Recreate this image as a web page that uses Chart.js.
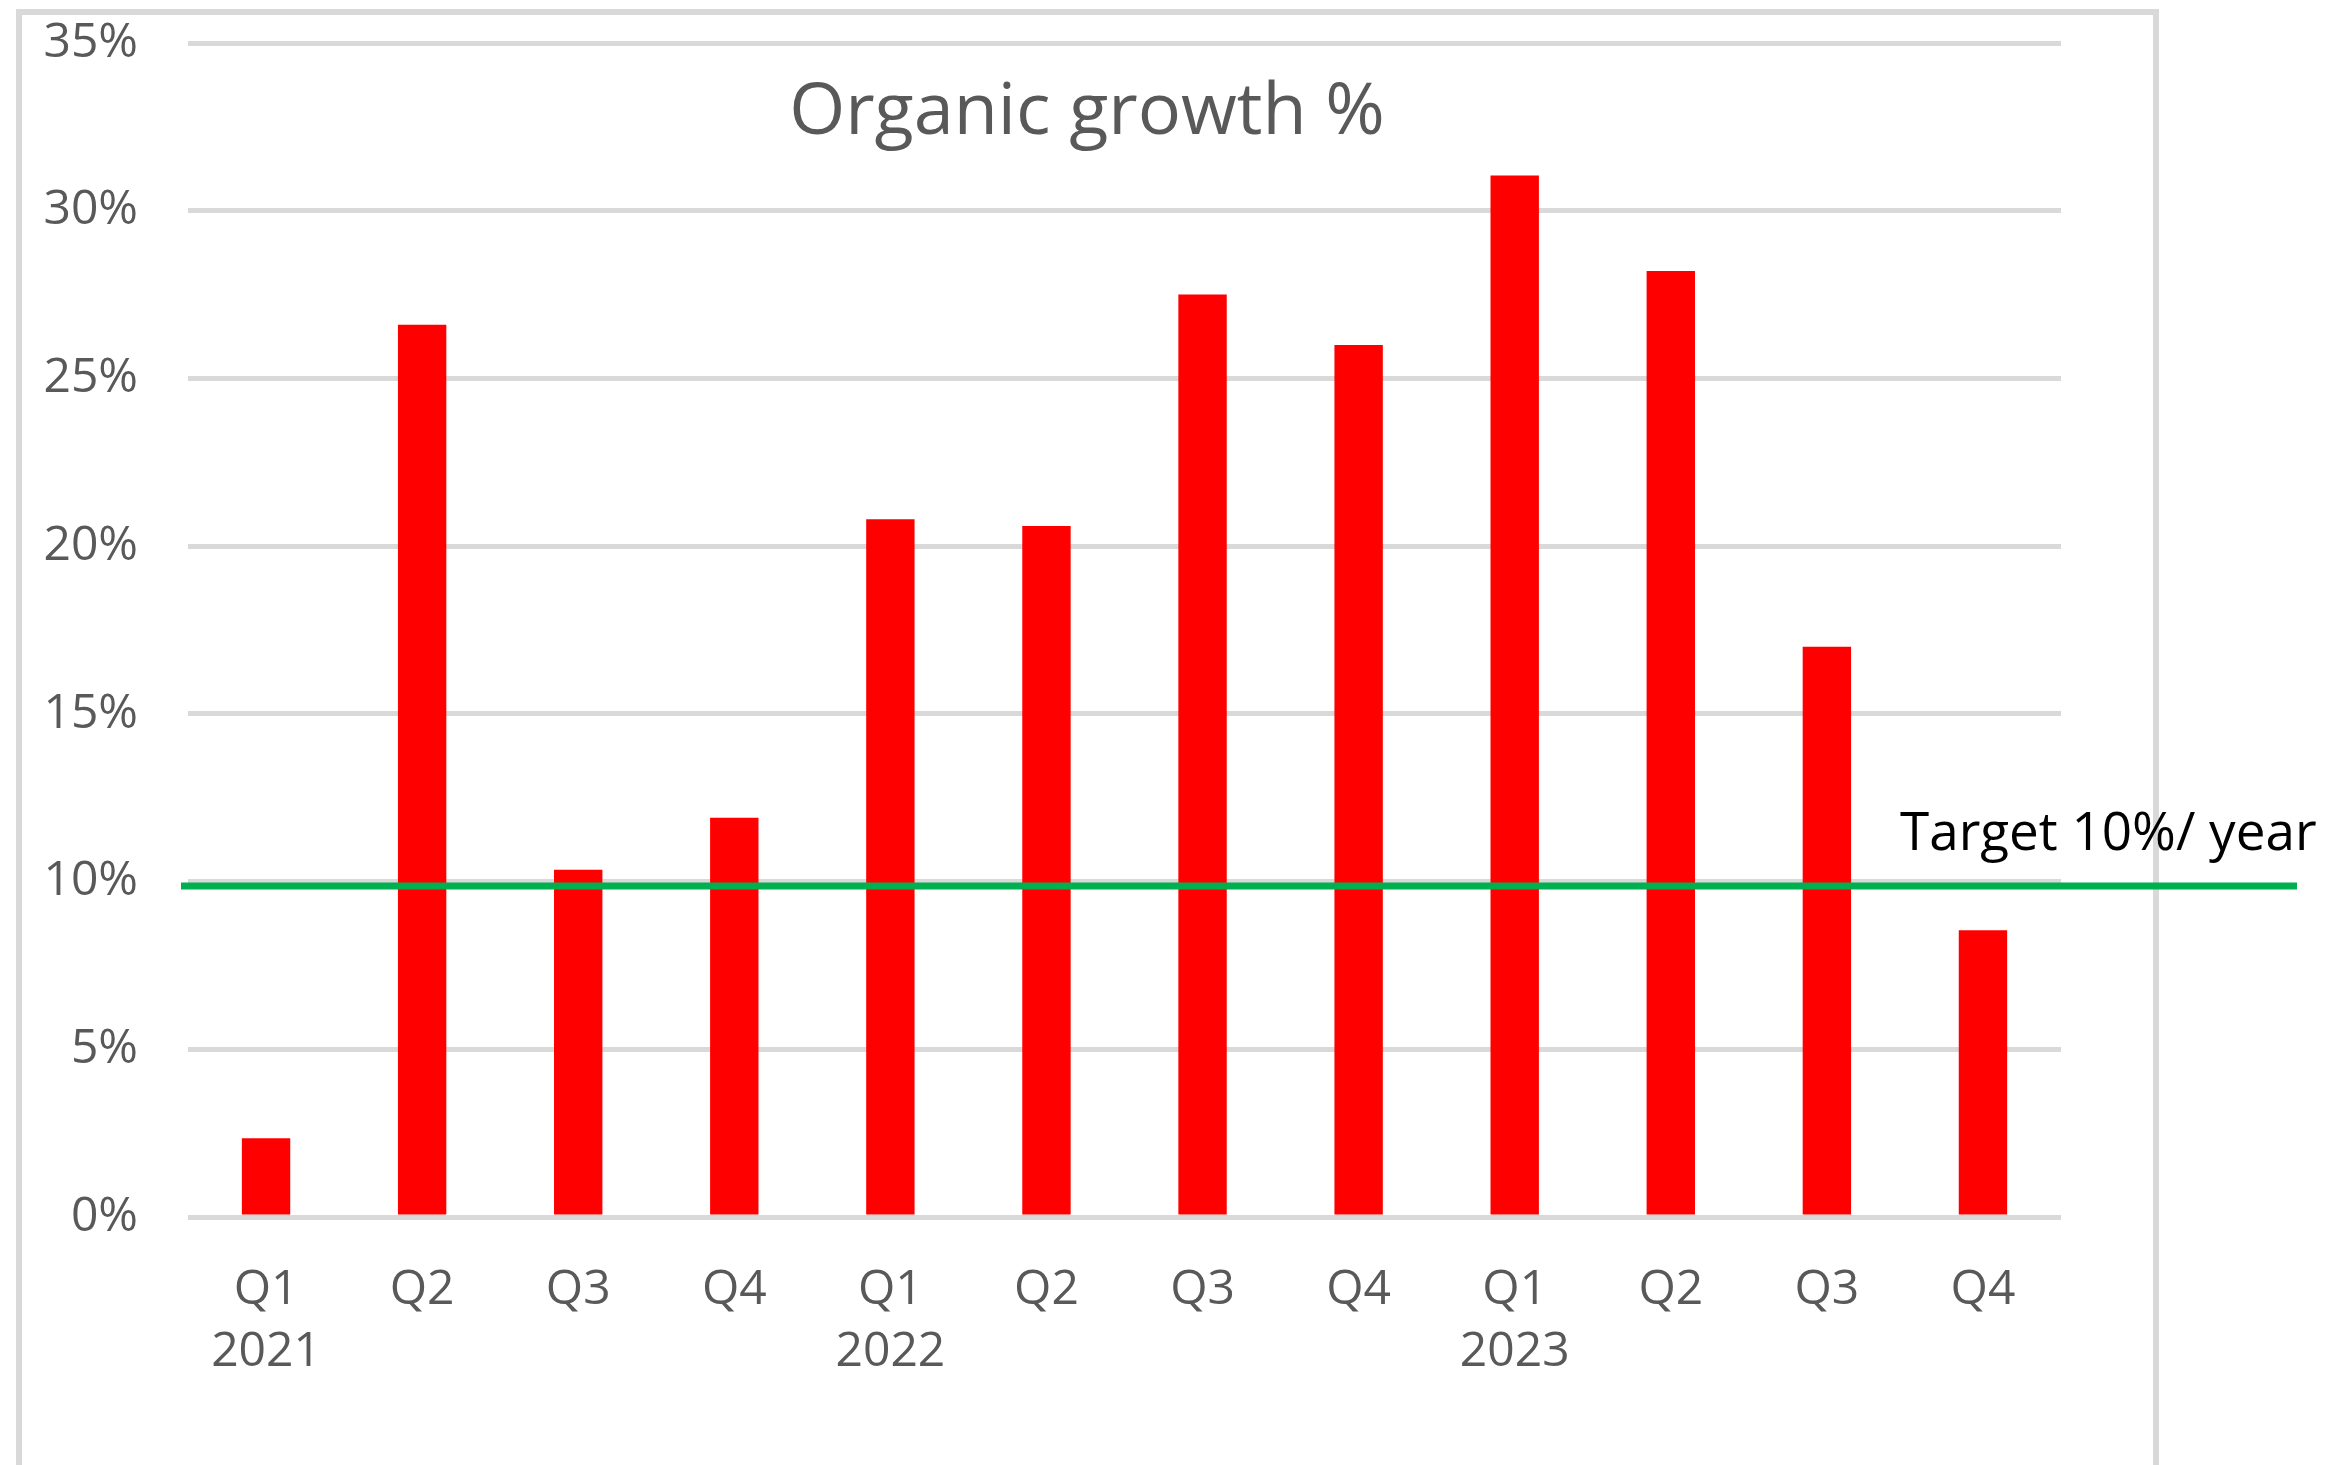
<!DOCTYPE html>
<html>
<head>
<meta charset="utf-8">
<script src="https://cdn.jsdelivr.net/npm/chart.js@4"></script>
<style>
  html, body { margin: 0; padding: 0; background: #fff; overflow: hidden; }
  #wrap { position: relative; width: 2327px; height: 1465px; }
  #frame { position: absolute; left: 16px; top: 9px; width: 2143px; height: 1500px;
           border: 6px solid #d9d9d9; box-sizing: border-box; }
  #growthChart { position: absolute; left: 0; top: 0; }
</style>
</head>
<body>
<div id="wrap">
  <div id="frame"></div>
  <canvas id="growthChart" width="2327" height="1465"></canvas>
</div>
<script>
// quarters and the year shown under the first quarter of each year
const quarters = ['Q1', 'Q2', 'Q3', 'Q4', 'Q1', 'Q2', 'Q3', 'Q4', 'Q1', 'Q2', 'Q3', 'Q4'];
const years = ['2021', '', '', '', '2022', '', '', '', '2023', '', '', ''];
// organic growth in %
const growth = [2.35, 26.6, 10.35, 11.9, 20.8, 20.6, 27.5, 26.0, 31.05, 28.2, 17.0, 8.55];
const yTicks = [0, 5, 10, 15, 20, 25, 30, 35];
const targetValue = 9.87;
const titleText = 'Organic growth %';
const targetText = 'Target 10%/ year';

const fontFamily = '"Open Sans", "Liberation Sans", sans-serif';
const textGrey = '#595959';

/**
 * Draws the chart title inside the plot, the green target line and its label.
 * The title sits over the gridlines like in the Excel original.
 */
const overlayPlugin = {
  id: 'overlay',
  afterDraw(chart) {
    let ctx = chart.ctx;
    let area = chart.chartArea;
    let y = chart.scales.y;
    ctx.save();
    // title, centred on the outer frame
    ctx.fillStyle = textGrey;
    ctx.font = '72px ' + fontFamily;
    ctx.textAlign = 'center';
    ctx.textBaseline = 'middle';
    ctx.fillText(titleText, 1087, (y.getPixelForValue(35) + y.getPixelForValue(30)) / 2 - 13);

    // target line runs past the frame on the right
    let ty = y.getPixelForValue(targetValue);
    ctx.strokeStyle = '#00b050';
    ctx.lineWidth = 7;
    ctx.beginPath();
    ctx.moveTo(area.left - 7, ty);
    ctx.lineTo(chart.width - 30, ty);
    ctx.stroke();

    ctx.fillStyle = '#000000';
    ctx.font = '53px ' + fontFamily;
    ctx.textAlign = 'left';
    ctx.textBaseline = 'alphabetic';
    ctx.fillText(targetText, area.right - 161, ty - 36);
    ctx.restore();
  }
};

function buildLabels() {
  let labels = [];
  for (let i = 0; i < quarters.length; i++) {
    labels.push([quarters[i], years[i]]);
  }
  return labels;
}

function drawChart(node) {
  let chart = new Chart(node, {
    type: 'bar',
    data: {
      labels: buildLabels(),
      datasets: [{
        data: growth,
        backgroundColor: '#ff0000',
        borderWidth: 0,
        barPercentage: 0.31,
        categoryPercentage: 1.0
      }]
    },
    options: {
      responsive: false,
      animation: false,
      layout: {
        padding: { left: 18, right: 266, top: 43, bottom: 78 }
      },
      plugins: {
        legend: { display: false },
        tooltip: { enabled: false }
      },
      scales: {
        x: {
          grid: { display: false, drawTicks: false },
          border: { display: false },
          ticks: {
            color: textGrey,
            font: { family: fontFamily, size: 48, lineHeight: 1.3 },
            padding: 42,
            maxRotation: 0,
            autoSkip: false
          },
          afterFit(scale) { scale.height = 170; }
        },
        y: {
          min: 0,
          max: 35,
          afterBuildTicks(scale) {
            scale.ticks = yTicks.map(v => ({ value: v }));
          },
          grid: { color: '#d9d9d9', lineWidth: 5, drawTicks: false },
          border: { display: false },
          ticks: {
            color: textGrey,
            font: { family: fontFamily, size: 48 },
            padding: 50,
            callback: v => v + '%'
          },
          afterFit(scale) {
            // fixed width, and no extra room reserved above the top label
            scale.width = 170;
            scale.paddingTop = 0;
            scale.paddingBottom = 0;
          }
        }
      }
    },
    plugins: [overlayPlugin]
  });
  return chart;
}

drawChart(document.getElementById('growthChart'));
</script>
</body>
</html>
